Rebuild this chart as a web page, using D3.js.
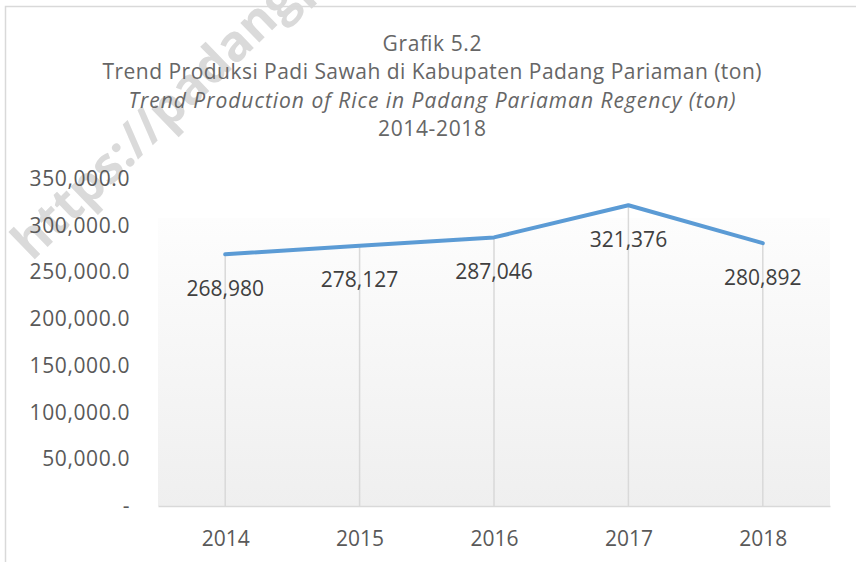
<!DOCTYPE html>
<html>
<head>
<meta charset="utf-8">
<script src="https://cdn.jsdelivr.net/npm/d3@7"></script>
<style>
  body { margin: 0; background: #fff; }
  svg { display: block; font-family: "Open Sans", "Noto Sans", sans-serif; }
</style>
</head>
<body>
<svg id="chart" width="856" height="562"></svg>
<script>
// data
const years = ["2014", "2015", "2016", "2017", "2018"]
const production = [268980, 278127, 287046, 321376, 280892]
const yTicks = [0, 50000, 100000, 150000, 200000, 250000, 300000, 350000]
const titleLines = [
    "Grafik 5.2",
    "Trend Produksi Padi Sawah di Kabupaten Padang Pariaman (ton)",
    "Trend Production of Rice in Padang Pariaman Regency (ton)",
    "2014-2018"
]
const titleWidths = [99, 659, 607, 108]

const svg = d3.select("#chart")
const plot = { left: 158, right: 830, top: 178.5, bottom: 506 }

// gradient for plot area
const grad = svg.append("defs")
    .append("linearGradient")
    .attr("id", "plotFill")
    .attr("x1", 0).attr("y1", 0)
    .attr("x2", 0).attr("y2", 1)
grad.append("stop").attr("offset", "0%").attr("stop-color", "#fdfdfd")
grad.append("stop").attr("offset", "100%").attr("stop-color", "#efefef")

// watermark
svg.append("text")
    .attr("transform", "translate(32,262) rotate(-44)")
    .attr("font-size", 50)
    .attr("font-weight", "bold")
    .attr("fill", "#dadada")
    .text("https://padangpariamankab.bps.go.id")

// chart border
svg.append("rect")
    .attr("x", 5.5).attr("y", 6.5)
    .attr("width", 900).attr("height", 600)
    .attr("fill", "none")
    .attr("stroke", "#d9d9d9")
    .attr("stroke-width", 1.5)

// title
svg.append("g")
    .selectAll("text")
    .data(titleLines)
    .enter()
    .append("text")
    .attr("x", 432)
    .attr("y", (d, i) => 50.5 + i * 28.5)
    .attr("text-anchor", "middle")
    .attr("font-size", 21)
    .attr("textLength", (d, i) => titleWidths[i])
    .attr("lengthAdjust", "spacing")
    .attr("font-style", (d, i) => i == 2 ? "italic" : "normal")
    .attr("fill", "#666666")
    .text(d => d)

// scales
const x = d3.scalePoint()
    .domain(years)
    .range([plot.left, plot.right])
    .padding(0.5)
const y = d3.scaleLinear()
    .domain([0, 350000])
    .range([plot.bottom, plot.top])

// plot area background
svg.append("rect")
    .attr("x", plot.left)
    .attr("y", 218)
    .attr("width", plot.right - plot.left)
    .attr("height", plot.bottom - 218)
    .attr("fill", "url(#plotFill)")

// y axis labels
const fmt = d3.format(",.1f")
svg.append("g")
    .attr("transform", `translate(130,0)`)
    .call(d3.axisLeft(y).tickValues(yTicks).tickSize(0).tickPadding(0)
        .tickFormat(d => d == 0 ? "-" : fmt(d)))
    .call(g => g.select(".domain").remove())
    .selectAll("text")
    .attr("font-family", "Open Sans, Noto Sans, sans-serif")
    .attr("font-size", 21)
    .attr("letter-spacing", 0.6)
    .attr("fill", "#595959")

// x axis
svg.append("g")
    .attr("transform", `translate(0,${plot.bottom})`)
    .call(d3.axisBottom(x).tickSize(0).tickPadding(25))
    .call(g => g.select(".domain")
        .attr("stroke", "#d9d9d9")
        .attr("stroke-width", 1.5))
    .selectAll("text")
    .attr("font-family", "Open Sans, Noto Sans, sans-serif")
    .attr("font-size", 21)
    .attr("fill", "#595959")

const points = years.map((yr, i) => ({ year: yr, value: production[i] }))

// drop lines
svg.append("g")
    .selectAll("line")
    .data(points)
    .enter()
    .append("line")
    .attr("x1", d => x(d.year))
    .attr("x2", d => x(d.year))
    .attr("y1", d => y(d.value))
    .attr("y2", plot.bottom)
    .attr("stroke", "#d9d9d9")
    .attr("stroke-width", 1.5)

// line
svg.append("path")
    .datum(points)
    .attr("fill", "none")
    .attr("stroke", "#5b9bd5")
    .attr("stroke-width", 4)
    .attr("stroke-linecap", "round")
    .attr("stroke-linejoin", "round")
    .attr("d", d3.line().x(d => x(d.year)).y(d => y(d.value)))

// data labels
svg.append("g")
    .selectAll("text")
    .data(points)
    .enter()
    .append("text")
    .attr("x", d => x(d.year))
    .attr("y", d => y(d.value) + 41.5)
    .attr("text-anchor", "middle")
    .attr("font-size", 21)
    .attr("fill", "#404040")
    .text(d => d3.format(",")(d.value))
</script>
</body>
</html>
